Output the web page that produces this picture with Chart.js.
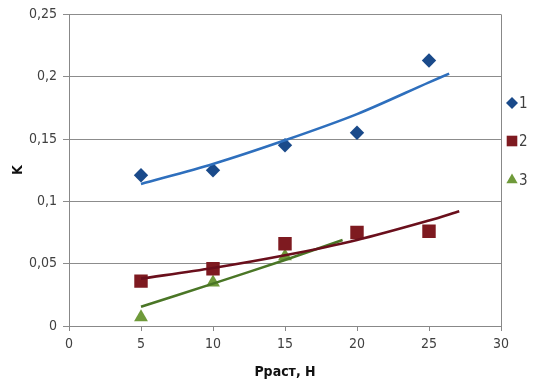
<!DOCTYPE html>
<html>
<head>
<meta charset="utf-8">
<style>
  html, body { margin: 0; padding: 0; background: #ffffff; }
  #wrap { width: 535px; height: 385px; position: relative; }
</style>
<script src="https://cdn.jsdelivr.net/npm/chart.js@4.4.1/dist/chart.umd.min.js"></script>
</head>
<body>
<div id="wrap"><canvas id="c" width="535" height="385"></canvas></div>
<script>
// Measured friction coefficient K against tensile load (Н), three sample groups
const loads = [5, 10, 15, 20, 25];
const series1 = [0.121, 0.125, 0.145, 0.155, 0.213];
const series2 = [0.036, 0.046, 0.066, 0.075, 0.076];
const loads3 = [5, 10, 15];
const series3 = [0.007, 0.035, 0.056];

// Trend lines (points along each fitted curve)
const trend1X = [5, 10, 15, 20, 25, 26.4];
const trend1Y = [0.114, 0.130, 0.149, 0.170, 0.1955, 0.2025];
const trend2X = [5, 10, 15, 20, 25, 27.1];
const trend2Y = [0.038, 0.0465, 0.0567, 0.069, 0.0846, 0.0921];
const trend3X = [5, 10, 15, 19];
const trend3Y = [0.0155, 0.034, 0.053, 0.069];

const xTicks = [0, 5, 10, 15, 20, 25, 30];
const yTicks = [0, 0.05, 0.1, 0.15, 0.2, 0.25];
const legendNames = ['1', '2', '3'];

const pts = (xs, ys) => xs.map((x, i) => ({ x: x, y: ys[i] }));
const fmt = v => String(Math.round(v * 100) / 100).replace('.', ',');

const C1 = '#1a4a8a', C1L = '#2e6fbd';
const C2 = '#7e1a20', C2L = '#6a0f1c';
const C3 = '#6f9a3a', C3L = '#4a7626';
const TXT = '#404040';
const FONT = '"DejaVu Sans Condensed", "DejaVu Sans", sans-serif';

const markerSets = [
  { label: legendNames[0], data: pts(loads, series1), pointStyle: 'rectRot', pointRadius: 7.2, backgroundColor: C1, borderColor: C1 },
  { label: legendNames[1], data: pts(loads, series2), pointStyle: 'rect', pointRadius: 9.5, backgroundColor: C2, borderColor: C2 },
  { label: legendNames[2], data: pts(loads3, series3), pointStyle: 'triangle', pointRadius: 8, backgroundColor: C3, borderColor: C3 }
].map(d => Object.assign(d, { showLine: false, borderWidth: 0, order: 2, pointHoverRadius: d.pointRadius }));

const trendSets = [
  { data: pts(trend1X, trend1Y), borderColor: C1L },
  { data: pts(trend2X, trend2Y), borderColor: C2L },
  { data: pts(trend3X, trend3Y), borderColor: C3L }
].map(d => Object.assign(d, { label: '', showLine: true, pointRadius: 0, borderWidth: 2.6, tension: 0.3, fill: false, order: 0 }));

// Right-hand frame line and the legend column
const extras = {
  id: 'extras',
  afterDraw(chart) {
    const ctx = chart.ctx, a = chart.chartArea;
    ctx.save();
    ctx.strokeStyle = '#888888';
    ctx.lineWidth = 1;
    ctx.beginPath();
    ctx.moveTo(Math.round(a.right) + 0.5, a.top);
    ctx.lineTo(Math.round(a.right) + 0.5, a.bottom + 5);
    ctx.stroke();

    const ys = [103, 141, 180];
    ctx.font = '15px ' + FONT;
    ctx.textBaseline = 'middle';
    markerSets.forEach((d, i) => {
      const r = d.pointStyle === 'rect' ? 7.5 : (d.pointStyle === 'triangle' ? 6.5 : 6);
      ctx.fillStyle = d.backgroundColor;
      Chart.helpers.drawPoint(ctx, { pointStyle: d.pointStyle, radius: r, borderWidth: 0 }, 512, ys[i]);
      ctx.fillStyle = TXT;
      ctx.fillText(d.label, 519, ys[i] + 1);
    });
    ctx.restore();
  }
};

new Chart(document.getElementById('c'), {
  type: 'scatter',
  data: { datasets: trendSets.concat(markerSets) },
  options: {
    responsive: false,
    animation: false,
    events: [],
    layout: { padding: { top: 13, right: 34, left: 6, bottom: 0 } },
    plugins: { legend: { display: false }, tooltip: { enabled: false } },
    scales: {
      x: {
        type: 'linear', min: 0, max: 30,
        afterBuildTicks: s => { s.ticks = xTicks.map(v => ({ value: v })); },
        afterFit: s => { s.height = 59; },
        grid: { drawOnChartArea: false, drawTicks: true, tickLength: 5, color: '#888888' },
        border: { color: '#888888', width: 1 },
        ticks: { color: TXT, font: { family: FONT, size: 14 }, padding: 5 },
        title: { display: true, text: 'Рраст, Н', color: '#111111', font: { family: FONT, size: 14, weight: 'bold' }, padding: { top: 2 } }
      },
      y: {
        type: 'linear', min: 0, max: 0.25,
        afterBuildTicks: s => { s.ticks = yTicks.map(v => ({ value: v })); },
        afterFit: s => { s.width = 63; },
        grid: { drawOnChartArea: true, drawTicks: true, tickLength: 6, color: '#8c8c8c' },
        border: { color: '#888888', width: 1 },
        ticks: { color: TXT, font: { family: FONT, size: 14 }, padding: 6, callback: v => fmt(v) },
        title: { display: true, text: 'K', color: '#111111', font: { family: FONT, size: 14, weight: 'bold' }, padding: { bottom: 14 } }
      }
    }
  },
  plugins: [extras]
});
</script>
</body>
</html>
